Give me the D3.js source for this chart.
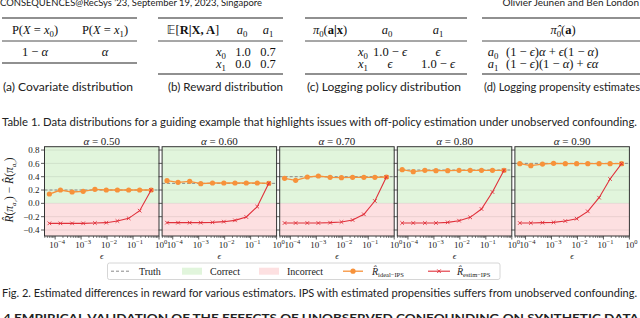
<!DOCTYPE html>
<html>
<head>
<meta charset="utf-8">
<script src="https://cdn.jsdelivr.net/npm/d3@7"></script>
<style>
body { margin: 0; background: #fff; }
</style>
</head>
<body>
<svg id="page" width="640" height="318"></svg>
<script>
// chart data
var alphas = ["0.50", "0.60", "0.70", "0.80", "0.90"];
var epsilons = [0.00006, 0.00016, 0.00045, 0.0012, 0.0034, 0.0093, 0.025, 0.068, 0.18, 0.5];
var truth = [0.2, 0.3, 0.4, 0.5, 0.6];
var idealIps = [
	[0.14, 0.20, 0.17, 0.18, 0.21, 0.20, 0.20, 0.20, 0.20, 0.20],
	[0.34, 0.315, 0.33, 0.295, 0.305, 0.305, 0.305, 0.305, 0.305, 0.30],
	[0.375, 0.345, 0.395, 0.41, 0.39, 0.385, 0.39, 0.39, 0.39, 0.395],
	[0.505, 0.475, 0.495, 0.49, 0.49, 0.495, 0.495, 0.495, 0.495, 0.495],
	[0.595, 0.565, 0.59, 0.60, 0.595, 0.595, 0.595, 0.595, 0.595, 0.595]
];
var estimIps = [
	[-0.30, -0.30, -0.30, -0.30, -0.295, -0.29, -0.265, -0.225, -0.11, 0.20],
	[-0.29, -0.29, -0.29, -0.29, -0.285, -0.275, -0.255, -0.205, -0.05, 0.30],
	[-0.295, -0.295, -0.295, -0.295, -0.29, -0.28, -0.25, -0.165, 0.035, 0.395],
	[-0.295, -0.295, -0.295, -0.295, -0.285, -0.26, -0.21, -0.085, 0.17, 0.495],
	[-0.295, -0.295, -0.29, -0.285, -0.265, -0.23, -0.12, 0.085, 0.365, 0.595]
];
var yTicks = [-0.4, -0.2, 0.0, 0.2, 0.4, 0.6, 0.8];
var xTicks = [1e-4, 1e-3, 1e-2, 1e-1, 1];
var xTickExps = ["\u22124", "\u22123", "\u22122", "\u22121", "0"];

// page text
var headerLeft = "CONSEQUENCES@RecSys \u201923, September 19, 2023, Singapore";
var headerRight = "Olivier Jeunen and Ben London";
var subCaptions = ["(a) Covariate distribution", "(b) Reward distribution",
	"(c) Logging policy distribution", "(d) Logging propensity estimates"];
var tableCaption = "Table 1.  Data distributions for a guiding example that highlights issues with off-policy estimation under unobserved confounding.";
var figCaption = "Fig. 2.  Estimated differences in reward for various estimators. IPS with estimated propensities suffers from unobserved confounding.";
var sectionTitle = "4     EMPIRICAL VALIDATION OF THE EFFECTS OF UNOBSERVED CONFOUNDING ON SYNTHETIC DATA";

var SANS = "Lato, 'Open Sans', sans-serif";
var SERIF = "'Liberation Serif', 'DejaVu Serif', serif";

var svg = d3.select("#page");

// ---------- header ----------
svg.append("text").attr("x", 0).attr("y", 6)
	.attr("font-family", SANS).attr("font-size", 10).attr("fill", "#222")
	.attr("textLength", 262).attr("lengthAdjust", "spacingAndGlyphs")
	.text(headerLeft);
svg.append("text").attr("x", 639).attr("y", 6).attr("text-anchor", "end")
	.attr("font-family", SANS).attr("font-size", 10).attr("fill", "#222")
	.text(headerRight);

// ---------- tables ----------
// math text helper: parts are [text, style] with style "", "i", "s", "b", "bb"
function math(x, y, parts, anchor, size) {
	size = size || 12.5;
	var t = svg.append("text").attr("x", x).attr("y", y)
		.attr("text-anchor", anchor || "middle")
		.attr("font-family", SERIF).attr("font-size", size).attr("fill", "#111");
	var shifted = false;
	parts.forEach(function(p) {
		var s = t.append("tspan").text(p[0]);
		if (p[1] == "i") s.attr("font-style", "italic");
		if (p[1] == "b") s.attr("font-weight", "bold");
		if (p[1] == "bb") s.attr("font-family", "'DejaVu Sans', sans-serif").attr("font-size", size * 0.95);
		if (p[1] == "s") {
			s.attr("font-size", size * 0.7).attr("dy", 3);
			shifted = true;
		} else if (shifted) {
			s.attr("dy", -3);
			shifted = false;
		}
	});
	return t;
}

var ruleTop = 18, ruleMid = 41, ruleBot = 74;
var hdrY = 34, row1Y = 56, row2Y = 67.5;

function rules(x0, x1, bottom) {
	[ruleTop, ruleMid, bottom].forEach(function(y) {
		svg.append("line").attr("x1", x0).attr("x2", x1).attr("y1", y).attr("y2", y)
			.attr("stroke", "#222").attr("stroke-width", y == ruleMid ? 0.8 : 1.2);
	});
}

// (a)
rules(2, 137, 63);
math(35, hdrY, [["P("], ["X", "i"], [" = "], ["x", "i"], ["0", "s"], [")"]]);
math(105, hdrY, [["P("], ["X", "i"], [" = "], ["x", "i"], ["1", "s"], [")"]]);
math(35, row1Y, [["1 \u2212 "], ["\u03b1", "i"]]);
math(105, row1Y, [["\u03b1", "i"]]);

// (b)
rules(158, 283, ruleBot);
math(193, hdrY, [["\ud835\udd3c", "bb"], ["[", ""], ["R|X, A", "b"], ["]"]]);
math(242, hdrY, [["a", "i"], ["0", "s"]]);
math(268, hdrY, [["a", "i"], ["1", "s"]]);
math(221, row1Y, [["x", "i"], ["0", "s"]]);
math(221, row2Y, [["x", "i"], ["1", "s"]]);
math(243, row1Y, [["1.0"]]);
math(268, row1Y, [["0.7"]]);
math(243, row2Y, [["0.0"]]);
math(268, row2Y, [["0.7"]]);

// (c)
rules(305, 467, ruleBot);
math(330, hdrY, [["\u03c0", "i"], ["0", "s"], ["("], ["a|x", "b"], [")"]]);
math(387, hdrY, [["a", "i"], ["0", "s"]]);
math(438, hdrY, [["a", "i"], ["1", "s"]]);
math(363, row1Y, [["x", "i"], ["0", "s"]]);
math(363, row2Y, [["x", "i"], ["1", "s"]]);
math(390, row1Y, [["1.0 \u2212 "], ["\u03f5", "i"]]);
math(438, row1Y, [["\u03f5", "i"]]);
math(390, row2Y, [["\u03f5", "i"]]);
math(438, row2Y, [["1.0 \u2212 "], ["\u03f5", "i"]]);

// (d)
rules(482, 640, ruleBot);
math(563, hdrY, [["\u03c0\u0302", "i"], ["0", "s"], ["("], ["a", "b"], [")"]]);
math(493, row1Y, [["a", "i"], ["0", "s"]]);
math(493, row2Y, [["a", "i"], ["1", "s"]]);
math(506, row1Y, [["(1 \u2212 "], ["\u03f5", "i"], [")"], ["\u03b1", "i"], [" + "], ["\u03f5", "i"], ["(1 \u2212 "], ["\u03b1", "i"], [")"]], "start");
math(506, row2Y, [["(1 \u2212 "], ["\u03f5", "i"], [")(1 \u2212 "], ["\u03b1", "i"], [") + "], ["\u03f5\u03b1", "i"]], "start");

// sub captions
var subX = [3, 168, 307, 484];
var subW = [130, 115, 154, 156];
subCaptions.forEach(function(c, i) {
	svg.append("text").attr("x", subX[i]).attr("y", 91)
		.attr("font-family", SANS).attr("font-size", 11).attr("fill", "#222")
		.attr("textLength", subW[i]).attr("lengthAdjust", "spacingAndGlyphs")
		.text(c);
});

svg.append("text").attr("x", 2).attr("y", 126)
	.attr("font-family", SANS).attr("font-size", 11).attr("fill", "#222")
	.attr("textLength", 635).attr("lengthAdjust", "spacingAndGlyphs")
	.text(tableCaption);

// ---------- small multiples ----------
var panelLeft0 = 44.5, panelPitch = 117.6, panelW = 114.5;
var plotTop = 146.7, plotBottom = 236;
var y = d3.scaleLinear().domain([-0.49, 0.85]).range([plotBottom, plotTop]);
var orange = "#f7923a", red = "#e0313b";

alphas.forEach(function(a, i) {
	var left = panelLeft0 + i * panelPitch;
	var x = d3.scaleLog().domain([Math.pow(10, -4.41), 1]).range([left, left + panelW]);
	var g = svg.append("g");

	g.append("rect").attr("x", left).attr("y", plotTop).attr("width", panelW)
		.attr("height", y(0) - plotTop).attr("fill", "#e1f5dc");
	g.append("rect").attr("x", left).attr("y", y(0)).attr("width", panelW)
		.attr("height", plotBottom - y(0)).attr("fill", "#fde0e1");

	g.selectAll(".grid").data(yTicks).enter().append("line")
		.attr("x1", left).attr("x2", left + panelW)
		.attr("y1", function(d) { return y(d); }).attr("y2", function(d) { return y(d); })
		.attr("stroke", "#000").attr("stroke-opacity", 0.1).attr("stroke-width", 0.8);

	g.append("line").attr("x1", left).attr("x2", left + panelW)
		.attr("y1", y(truth[i])).attr("y2", y(truth[i]))
		.attr("stroke", "#888").attr("stroke-width", 1).attr("stroke-dasharray", "3,2");

	var pts = epsilons.map(function(e, k) { return [e, idealIps[i][k], estimIps[i][k]]; });
	var lineIdeal = d3.line().x(function(d) { return x(d[0]); }).y(function(d) { return y(d[1]); });
	var lineEstim = d3.line().x(function(d) { return x(d[0]); }).y(function(d) { return y(d[2]); });

	g.append("path").attr("d", lineIdeal(pts)).attr("fill", "none")
		.attr("stroke", orange).attr("stroke-width", 1.3);
	g.selectAll(".dot").data(pts).enter().append("circle")
		.attr("cx", function(d) { return x(d[0]); }).attr("cy", function(d) { return y(d[1]); })
		.attr("r", 2.6).attr("fill", orange);

	g.append("path").attr("d", lineEstim(pts)).attr("fill", "none")
		.attr("stroke", red).attr("stroke-width", 1.1);
	g.selectAll(".cross").data(pts).enter().append("path")
		.attr("d", function(d) {
			var cx = x(d[0]), cy = y(d[2]), s = 1.8;
			return "M" + (cx - s) + "," + (cy - s) + "L" + (cx + s) + "," + (cy + s) +
				"M" + (cx - s) + "," + (cy + s) + "L" + (cx + s) + "," + (cy - s);
		})
		.attr("stroke", red).attr("stroke-width", 0.9);

	// frame
	g.append("rect").attr("x", left).attr("y", plotTop).attr("width", panelW).attr("height", plotBottom - plotTop)
		.attr("fill", "none").attr("stroke", "#333").attr("stroke-width", 1);

	// y ticks (labels on first panel only)
	g.selectAll(".yt").data(yTicks).enter().append("line")
		.attr("x1", left - 3.5).attr("x2", left)
		.attr("y1", function(d) { return y(d); }).attr("y2", function(d) { return y(d); })
		.attr("stroke", "#333").attr("stroke-width", 0.8);
	if (i == 0) {
		g.selectAll(".yl").data(yTicks).enter().append("text")
			.attr("x", left - 5).attr("y", function(d) { return y(d); }).attr("dy", "0.35em")
			.attr("text-anchor", "end").attr("font-family", SERIF).attr("font-size", 9).attr("fill", "#222")
			.text(function(d) { return d3.format(".1f")(d).replace("-", "\u2212"); });
	}

	// x ticks: minor + major
	var minor = [];
	for (var p = -5; p < 0; p++) for (var m = 2; m < 10; m++) {
		var v = m * Math.pow(10, p);
		if (v > x.domain()[0]) minor.push(v);
	}
	g.selectAll(".xm").data(minor).enter().append("line")
		.attr("x1", function(d) { return x(d); }).attr("x2", function(d) { return x(d); })
		.attr("y1", plotBottom).attr("y2", plotBottom + 2)
		.attr("stroke", "#333").attr("stroke-width", 0.6);
	g.selectAll(".xt").data(xTicks).enter().append("line")
		.attr("x1", function(d) { return x(d); }).attr("x2", function(d) { return x(d); })
		.attr("y1", plotBottom).attr("y2", plotBottom + 3.5)
		.attr("stroke", "#333").attr("stroke-width", 0.8);
	var xl = g.selectAll(".xl").data(xTicks).enter().append("text")
		.attr("x", function(d) { return x(d) + 2; }).attr("y", 248)
		.attr("text-anchor", "middle").attr("font-family", SERIF).attr("font-size", 9).attr("fill", "#222");
	xl.append("tspan").text("10");
	xl.append("tspan").attr("font-size", 6.5).attr("dy", -4).text(function(d, k) { return xTickExps[k]; });

	// title and x label
	var t = g.append("text").attr("x", left + panelW / 2).attr("y", 144.5).attr("text-anchor", "middle")
		.attr("font-family", SERIF).attr("font-size", 11).attr("fill", "#222");
	t.append("tspan").attr("font-style", "italic").text("\u03b1");
	t.append("tspan").text(" = " + a);

	g.append("text").attr("x", left + panelW / 2).attr("y", 259).attr("text-anchor", "middle")
		.attr("font-family", SERIF).attr("font-style", "italic").attr("font-size", 9).attr("fill", "#222")
		.text("\u03f5");
});

// y label
var yl = svg.append("text").attr("transform", "translate(13,190) rotate(-90)")
	.attr("text-anchor", "middle").attr("font-family", SERIF).attr("font-size", 11.5).attr("fill", "#222");
yl.append("tspan").attr("font-style", "italic").text("R\u0302");
yl.append("tspan").text("(");
yl.append("tspan").attr("font-style", "italic").text("\u03c0");
yl.append("tspan").attr("font-style", "italic").attr("font-size", 7).attr("dy", 3).text("a\u2081");
yl.append("tspan").attr("dy", -3).text(") \u2212 ");
yl.append("tspan").attr("font-style", "italic").text("R\u0302");
yl.append("tspan").text("(");
yl.append("tspan").attr("font-style", "italic").text("\u03c0");
yl.append("tspan").attr("font-style", "italic").attr("font-size", 7).attr("dy", 3).text("a\u2080");
yl.append("tspan").attr("dy", -3).text(")");

// ---------- legend ----------
var lg = svg.append("g");
lg.append("rect").attr("x", 107.5).attr("y", 263).attr("width", 392.5).attr("height", 16.5)
	.attr("rx", 2).attr("fill", "#fff").attr("stroke", "#ccc").attr("stroke-width", 0.8);
var ly = 271.2;
lg.append("line").attr("x1", 111).attr("x2", 130).attr("y1", ly).attr("y2", ly)
	.attr("stroke", "#888").attr("stroke-width", 1).attr("stroke-dasharray", "3,2");
lg.append("rect").attr("x", 182).attr("y", ly - 3.5).attr("width", 20).attr("height", 7).attr("fill", "#e1f5dc");
lg.append("rect").attr("x", 259).attr("y", ly - 3.5).attr("width", 20).attr("height", 7).attr("fill", "#fde0e1");
lg.append("line").attr("x1", 343).attr("x2", 363).attr("y1", ly).attr("y2", ly)
	.attr("stroke", orange).attr("stroke-width", 1.3);
lg.append("circle").attr("cx", 353).attr("cy", ly).attr("r", 2.6).attr("fill", orange);
lg.append("line").attr("x1", 428).attr("x2", 450).attr("y1", ly).attr("y2", ly)
	.attr("stroke", red).attr("stroke-width", 1.1);
lg.append("path").attr("d", "M437.2,269.4L440.8,273M437.2,273L440.8,269.4")
	.attr("stroke", red).attr("stroke-width", 0.9);

var legendText = [[139, "Truth"], [210, "Correct"], [287, "Incorrect"]];
legendText.forEach(function(d) {
	lg.append("text").attr("x", d[0]).attr("y", ly).attr("dy", "0.35em")
		.attr("font-family", SERIF).attr("font-size", 10).attr("fill", "#222").text(d[1]);
});
[[372, "ideal\u2212IPS"], [457, "estim\u2212IPS"]].forEach(function(d) {
	var t = lg.append("text").attr("x", d[0]).attr("y", ly).attr("dy", "0.35em")
		.attr("font-family", SERIF).attr("font-size", 10).attr("fill", "#222");
	t.append("tspan").attr("font-style", "italic").text("R\u0302");
	t.append("tspan").attr("font-size", 6.5).attr("dy", 2).text(d[1]);
});

// ---------- figure caption + section heading ----------
svg.append("text").attr("x", 2).attr("y", 296.5)
	.attr("font-family", SANS).attr("font-size", 11).attr("fill", "#222")
	.attr("textLength", 635).attr("lengthAdjust", "spacingAndGlyphs")
	.text(figCaption);
svg.append("text").attr("x", 3).attr("y", 322)
	.attr("font-family", SANS).attr("font-size", 12).attr("font-weight", "bold").attr("fill", "#222")
	.attr("textLength", 636).attr("lengthAdjust", "spacingAndGlyphs")
	.text(sectionTitle);
</script>
</body>
</html>
